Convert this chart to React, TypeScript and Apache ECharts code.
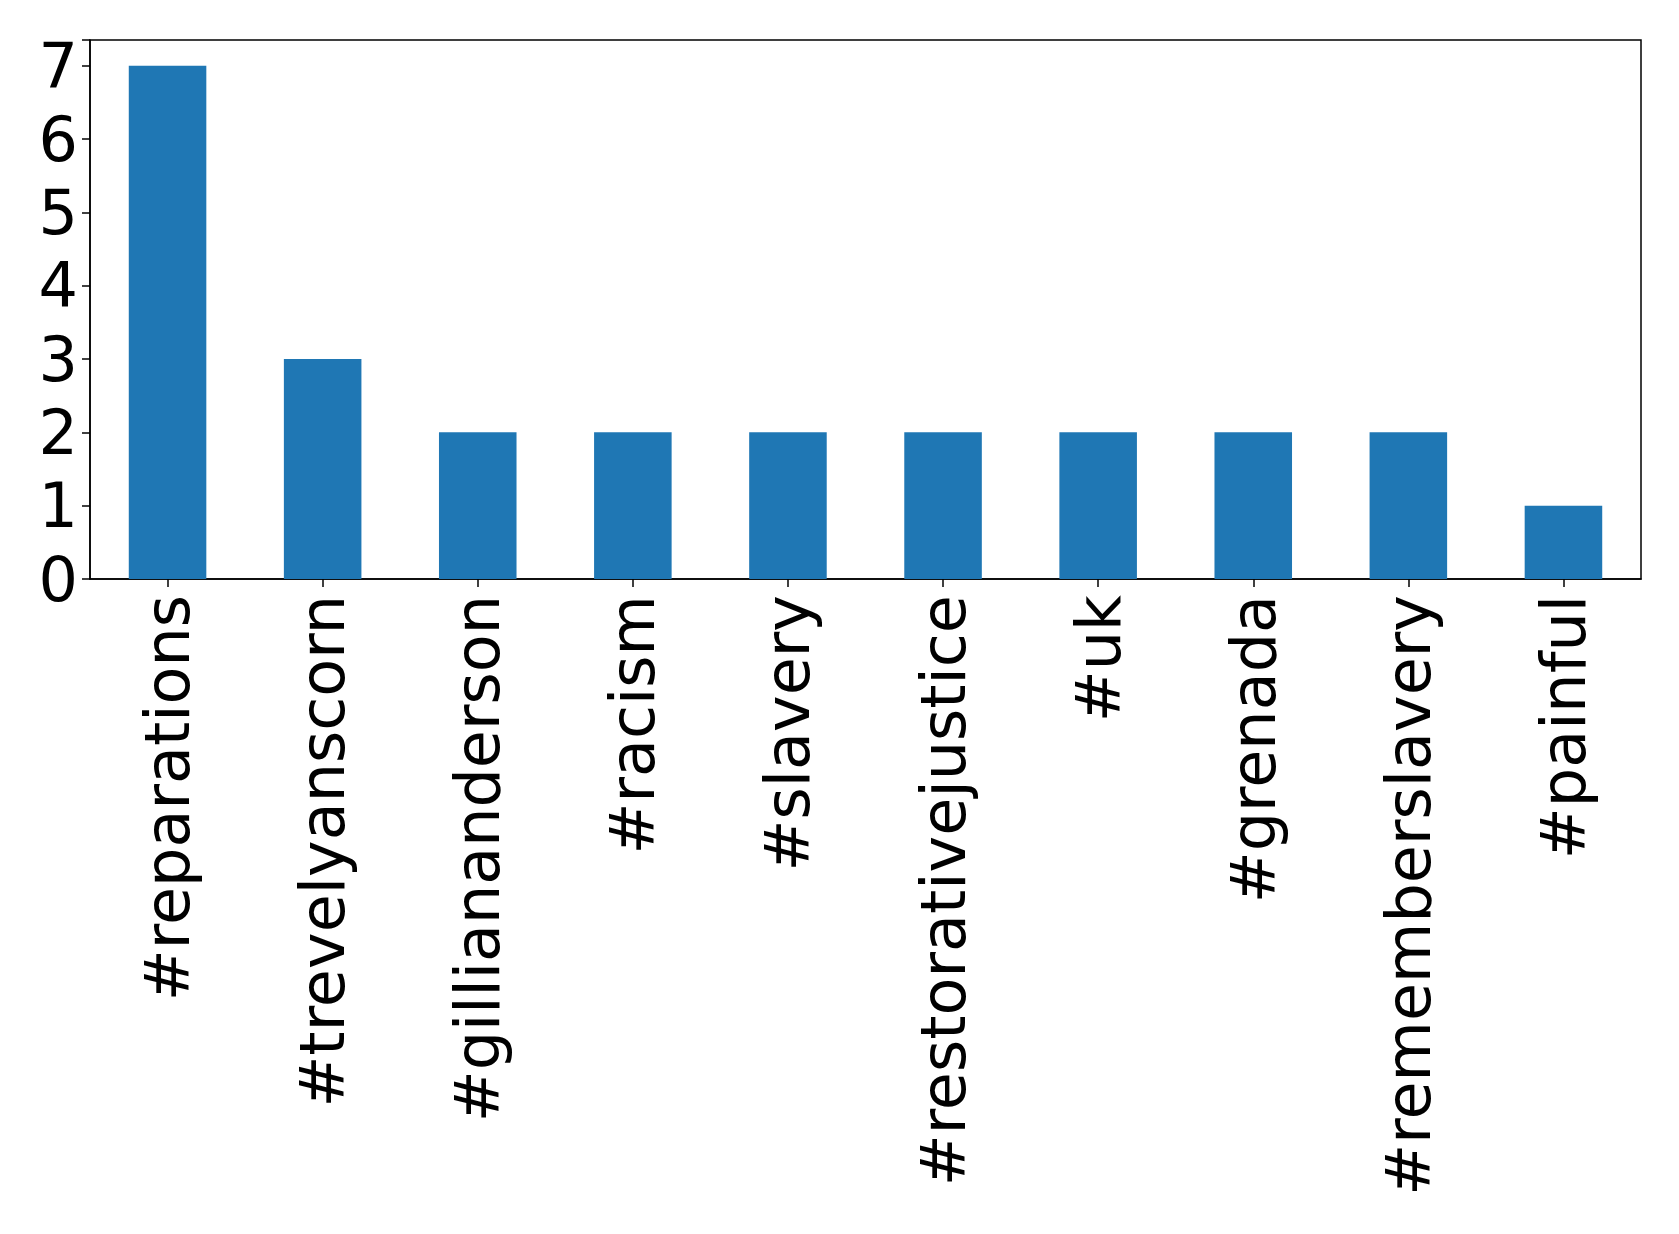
import React, { useEffect, useRef } from "react";
import * as echarts from "echarts";

const categories = [
  "#reparations",
  "#trevelyanscorn",
  "#gilliananderson",
  "#racism",
  "#slavery",
  "#restorativejustice",
  "#uk",
  "#grenada",
  "#rememberslavery",
  "#painful",
];
const counts = [7, 3, 2, 2, 2, 2, 2, 2, 2, 1];
const yTicks = [0, 1, 2, 3, 4, 5, 6, 7];

export default function App() {
  const ref = useRef<HTMLDivElement>(null);
  useEffect(() => {
    if (!ref.current) return;
    const chart = echarts.init(ref.current, null, { renderer: "svg" });
    const font = "DejaVu Sans";
    chart.setOption({
      animation: false,
      backgroundColor: "#ffffff",
      grid: {
        left: 90,
        right: 38,
        top: 40,
        bottom: 655,
        show: true,
        borderColor: "#000",
        borderWidth: 1.5,
        containLabel: false,
      },
      xAxis: {
        type: "category",
        data: categories,
        boundaryGap: true,
        axisLine: { show: true, lineStyle: { color: "#000", width: 1.5 } },
        axisTick: { show: true, alignWithLabel: true, length: 8, lineStyle: { color: "#000", width: 1.5 } },
        axisLabel: {
          rotate: 90,
          interval: 0,
          fontSize: 62,
          fontFamily: font,
          color: "#000",
          margin: 16,
        },
        splitLine: { show: false },
      },
      yAxis: {
        type: "value",
        min: 0,
        max: 7.35,
        interval: 1,
        axisLine: { show: true, lineStyle: { color: "#000", width: 1.5 } },
        axisTick: { show: true, length: 8, lineStyle: { color: "#000", width: 1.5 } },
        axisLabel: {
          fontSize: 62,
          fontFamily: font,
          color: "#000",
          margin: 12,
          formatter: (v: number) => (yTicks.includes(v) ? String(v) : ""),
        },
        splitLine: { show: false },
      },
      series: [
        {
          type: "bar",
          data: counts,
          barWidth: "50%",
          itemStyle: { color: "#1f77b4" },
        },
      ],
    });
    return () => chart.dispose();
  }, []);
  return (
    <div
      ref={ref}
      style={{ position: "fixed", left: 0, top: 0, width: 1679, height: 1234, background: "#fff" }}
    />
  );
}
